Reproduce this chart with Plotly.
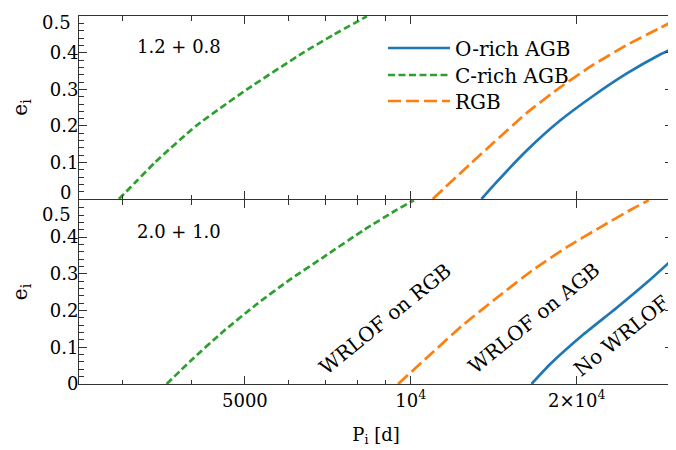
import plotly.graph_objects as go

# ---------------- data ----------------
# top panel: 1.2 + 0.8
top_orich_P = [13434, 14104, 16212, 18632, 21413, 24617, 28286, 29871]
top_orich_e = [0.0, 0.036, 0.132, 0.214, 0.282, 0.343, 0.395, 0.412]
top_crich_P = [2954, 3185, 3434, 4075, 5042, 6370, 7248, 8321]
top_crich_e = [0.0, 0.05, 0.1, 0.2, 0.3, 0.4, 0.45, 0.5]
top_rgb_P = [10961, 12794, 14104, 16212, 18632, 21413, 24617, 28286, 29871]
top_rgb_e = [0.0, 0.095, 0.153, 0.235, 0.305, 0.367, 0.421, 0.468, 0.486]

# bottom panel: 2.0 + 1.0
bot_orich_P = [16556, 17870, 20530, 23610, 27130, 29871]
bot_orich_e = [0.0, 0.053, 0.134, 0.207, 0.283, 0.340]
bot_crich_P = [3605, 3973, 4566, 5250, 6033, 6936, 8193, 9420, 10126]
bot_crich_e = [0.0, 0.061, 0.143, 0.217, 0.284, 0.345, 0.418, 0.474, 0.5]
bot_rgb_P = [9484, 10826, 12440, 14304, 16666, 19160, 22020, 25310, 27020]
bot_rgb_e = [0.0, 0.079, 0.161, 0.234, 0.311, 0.372, 0.426, 0.478, 0.5]

series_names = ["O-rich AGB", "C-rich AGB", "RGB"]
panel_labels = ["1.2 + 0.8", "2.0 + 1.0"]
region_labels = ["WRLOF on RGB", "WRLOF on AGB", "No WRLOF"]

x_tickvals = [5000, 10000, 20000]
x_ticktext = ["5000", "10<sup>4</sup>", "2×10<sup>4</sup>"]
x_minor = [3000, 4000, 6000, 7000, 8000, 9000]
y_tickvals_inner = [0.1, 0.2, 0.3, 0.4]
y_ticktext_inner = ["0.1", "0.2", "0.3", "0.4"]

# ---------------- styles ----------------
BLUE, GREEN, ORANGE = "#1f77b4", "#2ca02c", "#ff7f0e"
FONT = "DejaVu Serif"
AX = "#333333"
styles = {
    "O-rich AGB": dict(color=BLUE, width=2.7, dash="solid"),
    "C-rich AGB": dict(color=GREEN, width=2.7, dash="7px,3.5px"),
    "RGB": dict(color=ORANGE, width=2.7, dash="13px,5px"),
}
legend_ids = ["legend", "legend2", "legend3"]

fig = go.Figure()
top = [(top_orich_P, top_orich_e), (top_crich_P, top_crich_e), (top_rgb_P, top_rgb_e)]
bot = [(bot_orich_P, bot_orich_e), (bot_crich_P, bot_crich_e), (bot_rgb_P, bot_rgb_e)]
for name, lid, (P, e) in zip(series_names, legend_ids, top):
    fig.add_trace(go.Scatter(x=P, y=e, mode="lines", name=name,
                             line=dict(shape="spline", smoothing=0.5, **styles[name]),
                             xaxis="x", yaxis="y", showlegend=True, legend=lid))
for name, (P, e) in zip(series_names, bot):
    fig.add_trace(go.Scatter(x=P, y=e, mode="lines", name=name,
                             line=dict(shape="spline", smoothing=0.5, **styles[name]),
                             xaxis="x2", yaxis="y2", showlegend=False))

common_x = dict(type="log", range=[3.39794, 4.4757], showline=True, linecolor=AX, linewidth=1, mirror="ticks",
                ticks="inside", ticklen=8, tickwidth=1, tickcolor=AX, showgrid=False, zeroline=False,
                tickvals=x_tickvals, automargin=False,
                minor=dict(tickmode="array", tickvals=x_minor, ticks="inside", ticklen=4.5, tickcolor=AX, showgrid=False),
                tickfont=dict(family=FONT, size=18, color="black"))
common_y = dict(range=[0, 0.501], showline=True, linecolor=AX, linewidth=1, mirror="ticks", ticks="inside",
                ticklen=8, tickwidth=1, tickcolor=AX, showgrid=False, zeroline=False, automargin=False,
                ticklabelstandoff=-4,
                minor=dict(dtick=0.02, ticks="inside", ticklen=4.5, tickcolor=AX, showgrid=False),
                tickfont=dict(family=FONT, size=18, color="black"),
                title=dict(text="e<sub>i</sub>", font=dict(family=FONT, size=20, color="black"), standoff=18))

leg_common = dict(xanchor="left", yanchor="middle", bgcolor="rgba(0,0,0,0)",
                  font=dict(family=FONT, size=20, color="black"), itemwidth=62)
LEGX = (383 - 79) / 594
# the page body adds an 8 px offset; the figure is sized so the plot area lands at x 79-673, y 16-384
fig.update_layout(
    width=668, height=442, margin=dict(l=71, r=3, t=8, b=66),
    paper_bgcolor="white", plot_bgcolor="white",
    xaxis=dict(**common_x, anchor="y", domain=[0, 1], matches="x2", showticklabels=False),
    xaxis2=dict(**common_x, anchor="y2", domain=[0, 1], ticktext=x_ticktext,
                title=dict(text="P<sub>i</sub> [d]", font=dict(family=FONT, size=18, color="black"), standoff=18)),
    yaxis=dict(**common_y, tickvals=y_tickvals_inner, ticktext=y_ticktext_inner, anchor="x",
               domain=[0.5 + 1 / 368, 1]),
    yaxis2=dict(**common_y, tickvals=[0] + y_tickvals_inner, ticktext=["0"] + y_ticktext_inner,
                anchor="x2", domain=[0, 0.5]),
    legend=dict(x=LEGX, y=(384 - 48) / 368, **leg_common),
    legend2=dict(x=LEGX, y=(384 - 75) / 368, **leg_common),
    legend3=dict(x=LEGX, y=(384 - 101) / 368, **leg_common),
    showlegend=True,
)

ann = []
# edge tick labels shifted inward (as in the reference)
ann.append(dict(text="0", xref="paper", x=0, yref="y", y=0, yshift=7))
ann.append(dict(text="0.5", xref="paper", x=0, yref="y", y=0.5, yshift=-6.5))
ann.append(dict(text="0.5", xref="paper", x=0, yref="y2", y=0.5, yshift=-14))
for a in ann:
    a.update(showarrow=False, xanchor="right", yanchor="middle", xshift=-6,
             font=dict(family=FONT, size=18, color="black"))
# panel labels
for txt, py in zip(panel_labels, [46, 231]):
    ann.append(dict(text=txt, xref="paper", x=(179 - 79) / 594, yref="paper", y=(384 - py) / 368,
                    xanchor="center", yanchor="middle", showarrow=False,
                    font=dict(family=FONT, size=18, color="black")))
# region labels
for txt, px, py in zip(region_labels, [385, 534, 621], [319, 318, 336]):
    ann.append(dict(text=txt, xref="paper", x=(px - 79) / 594, yref="paper", y=(384 - py) / 368,
                    xanchor="center", yanchor="middle", showarrow=False,
                    textangle=-39, font=dict(family=FONT, size=20, color="black")))
fig.update_layout(annotations=ann)

fig.write_html("out.html")
